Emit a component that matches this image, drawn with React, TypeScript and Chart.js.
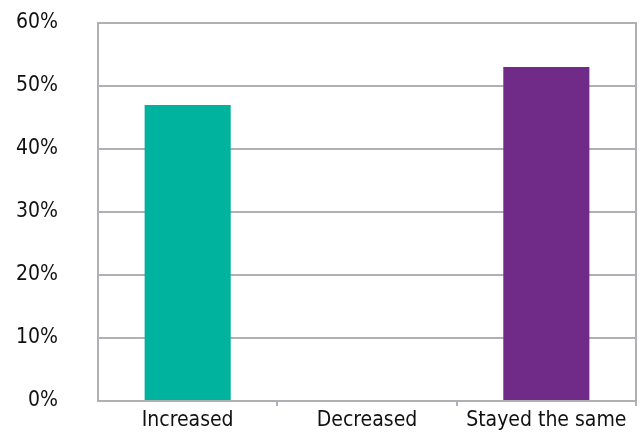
import React, { useEffect, useRef } from "react";
import { Chart, registerables } from "chart.js";

Chart.register(...registerables);

const categories: string[] = ["Increased", "Decreased", "Stayed the same"];
const shares: number[] = [47, 0, 53];
const barColors: string[] = ["#00b39e", "#00b39e", "#702a87"];
const yMin = 0;
const yMax = 60;
const yStep = 10;

const LINE = "#b0b0b4";
const FONT = "'DejaVu Sans Condensed', 'DejaVu Sans', sans-serif";

// Closes the plot frame on the right-hand side.
const frameRight = {
  id: "frameRight",
  afterDraw(chart: Chart) {
    const { ctx, chartArea } = chart;
    ctx.save();
    ctx.strokeStyle = LINE;
    ctx.lineWidth = 2;
    ctx.beginPath();
    ctx.moveTo(chartArea.right, chartArea.top - 1);
    ctx.lineTo(chartArea.right, chartArea.bottom + 1);
    ctx.stroke();
    ctx.restore();
  },
};

export default function App() {
  const canvasRef = useRef<HTMLCanvasElement | null>(null);

  useEffect(() => {
    document.body.style.margin = "0";
    const canvas = canvasRef.current;
    if (!canvas) return;
    const chart = new Chart(canvas, {
      type: "bar",
      data: {
        labels: categories,
        datasets: [
          {
            data: shares,
            backgroundColor: barColors,
            barPercentage: 0.48,
            categoryPercentage: 1,
          },
        ],
      },
      options: {
        animation: false,
        responsive: true,
        maintainAspectRatio: false,
        layout: { padding: { top: 23, right: 6, left: 0, bottom: 0 } },
        plugins: {
          legend: { display: false },
          tooltip: { enabled: false },
        },
        scales: {
          x: {
            grid: {
              display: true,
              drawOnChartArea: false,
              drawTicks: true,
              tickLength: 5,
              offset: true,
              // tick marks only between categories, not at the frame corners
              color: (c: any) =>
                c.index === 0 || c.index === categories.length ? "rgba(0,0,0,0)" : LINE,
              lineWidth: 2,
            },
            border: { display: true, color: LINE, width: 2 },
            ticks: {
              color: "#111111",
              font: { family: FONT, size: 21 },
              padding: 2,
              maxRotation: 0,
              autoSkip: false,
            },
            afterFit(scale: any) {
              scale.height = 32;
              scale.paddingLeft = 0;
              scale.paddingRight = 0;
            },
          },
          y: {
            min: yMin,
            max: yMax,
            grid: {
              color: LINE,
              lineWidth: 2,
              drawTicks: false,
            },
            border: { display: true, color: LINE, width: 2 },
            ticks: {
              stepSize: yStep,
              color: "#111111",
              font: { family: FONT, size: 21 },
              padding: 40,
              callback: (v: any) => `${v}%`,
            },
            afterFit(scale: any) {
              scale.width = 98;
              scale.paddingTop = 0;
              scale.paddingBottom = 0;
            },
          },
        },
      },
      plugins: [frameRight],
    });
    return () => chart.destroy();
  }, []);

  return (
    <div style={{ position: "relative", width: 642, height: 433, background: "#ffffff" }}>
      <canvas ref={canvasRef} />
    </div>
  );
}
